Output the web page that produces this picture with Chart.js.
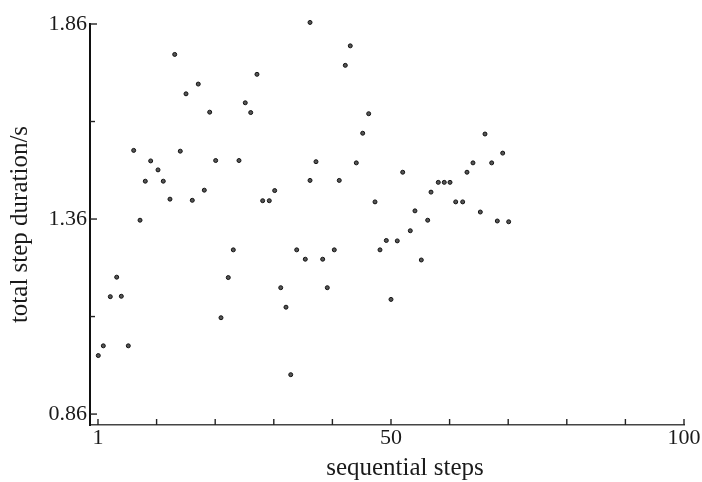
<!DOCTYPE html>
<html><head><meta charset="utf-8">
<script src="https://cdn.jsdelivr.net/npm/chart.js@4.4.1/dist/chart.umd.min.js"></script>
<style>html,body{margin:0;padding:0;background:#fff}#wrap{width:702px;height:482px}</style>
</head><body><div id="wrap"><canvas id="c" width="702" height="482"></canvas></div>
<script>
const stepX = [1.05,1.90,3.08,4.16,4.94,6.12,7.03,8.10,8.99,9.90,11.14,12.03,13.16,13.96,14.90,15.87,16.93,17.94,18.96,19.87,20.88,21.78,23.01,23.86,24.82,25.88,26.80,27.86,28.82,29.94,30.85,31.87,32.76,33.56,34.57,36.02,36.82,36.82,37.83,38.96,39.74,40.92,41.76,42.78,43.62,44.64,45.72,46.73,47.80,48.64,49.71,50.50,51.56,52.48,53.76,54.55,55.62,56.70,57.26,58.49,59.50,60.47,61.43,62.61,63.34,64.35,65.59,66.38,67.51,68.46,69.37,70.38];
const durationY = [1.010,1.035,1.161,1.211,1.162,1.035,1.536,1.357,1.457,1.509,1.486,1.457,1.411,1.782,1.534,1.681,1.408,1.706,1.434,1.634,1.510,1.107,1.210,1.281,1.510,1.658,1.633,1.731,1.407,1.407,1.433,1.184,1.134,0.961,1.281,1.257,1.864,1.459,1.507,1.257,1.184,1.281,1.459,1.754,1.804,1.504,1.580,1.630,1.404,1.281,1.305,1.154,1.304,1.480,1.330,1.381,1.255,1.357,1.429,1.454,1.454,1.454,1.404,1.404,1.480,1.504,1.378,1.578,1.504,1.355,1.529,1.353];
const xTickValues = [1,10.9,20.8,30.7,40.6,50.5,60.4,70.3,80.2,90.1,100];
const xTickLabels = ['1','','','','','50','','','','','100'];
const yTickValues = [0.86,1.11,1.36,1.61,1.86];
const yTickLabels = ['0.86','','1.36','','1.86'];
const xTitle = 'sequential steps';
const yTitle = 'total step duration/s';

const FONT = "'Liberation Serif', 'DejaVu Serif', serif";
const TXT = '#1a1a1a';

const points = stepX.map((x, i) => ({x: x, y: durationY[i]}));

const inwardTicks = {
  id: 'inwardTicks',
  afterDraw(chart) {
    const {ctx, chartArea, scales} = chart;
    ctx.save();
    ctx.strokeStyle = '#222';
    ctx.lineWidth = 1.4;
    const ys = scales.y;
    yTickValues.forEach((v, i) => {
      const p = ys.getPixelForValue(v);
      const len = yTickLabels[i] ? 7 : 5;
      ctx.beginPath();
      ctx.moveTo(chartArea.left, p);
      ctx.lineTo(chartArea.left + len, p);
      ctx.stroke();
    });
    const xs = scales.x;
    xTickValues.forEach((v) => {
      const p = xs.getPixelForValue(v);
      ctx.beginPath();
      ctx.moveTo(p, chartArea.bottom);
      ctx.lineTo(p, chartArea.bottom - 6);
      ctx.stroke();
    });
    ctx.fillStyle = TXT;
    ctx.font = "25px " + FONT;
    ctx.textAlign = 'center';
    ctx.textBaseline = 'alphabetic';
    ctx.fillText(xTitle, 405, 475);
    ctx.restore();
  }
};

new Chart(document.getElementById('c'), {
  type: 'scatter',
  data: {
    datasets: [{
      data: points,
      pointRadius: 2,
      pointHoverRadius: 2,
      borderWidth: 1,
      borderColor: '#111',
      backgroundColor: '#555',
      clip: false
    }]
  },
  options: {
    responsive: false,
    animation: false,
    devicePixelRatio: 1,
    layout: {padding: {left: 0, top: 24, right: 18, bottom: 0}},
    plugins: {legend: {display: false}, tooltip: {enabled: false}},
    scales: {
      x: {
        type: 'linear',
        min: -0.35,
        max: 100,
        afterBuildTicks(scale) { scale.ticks = xTickValues.map(v => ({value: v})); },
        afterFit(scale) { scale.height = 57; },
        grid: {display: false, drawTicks: false},
        border: {display: true, color: '#444', width: 1.5},
        ticks: {
          autoSkip: false,
          maxRotation: 0,
          padding: 0,
          color: TXT,
          font: {family: FONT, size: 22},
          callback(value, index) { return xTickLabels[index]; }
        }
      },
      y: {
        type: 'linear',
        min: 0.832,
        max: 1.86,
        afterBuildTicks(scale) { scale.ticks = yTickValues.map(v => ({value: v})); },
        afterFit(scale) { scale.width = 90; },
        grid: {display: false, drawTicks: false},
        border: {display: true, color: '#111', width: 2},
        title: {
          display: true,
          text: yTitle,
          color: TXT,
          font: {family: FONT, size: 25, lineHeight: 1.2},
          padding: {top: 5, bottom: 0}
        },
        ticks: {
          autoSkip: false,
          padding: 3,
          color: TXT,
          font: {family: FONT, size: 22},
          callback(value, index) { return yTickLabels[index]; }
        }
      }
    }
  },
  plugins: [inwardTicks]
});
</script>
</body></html>
